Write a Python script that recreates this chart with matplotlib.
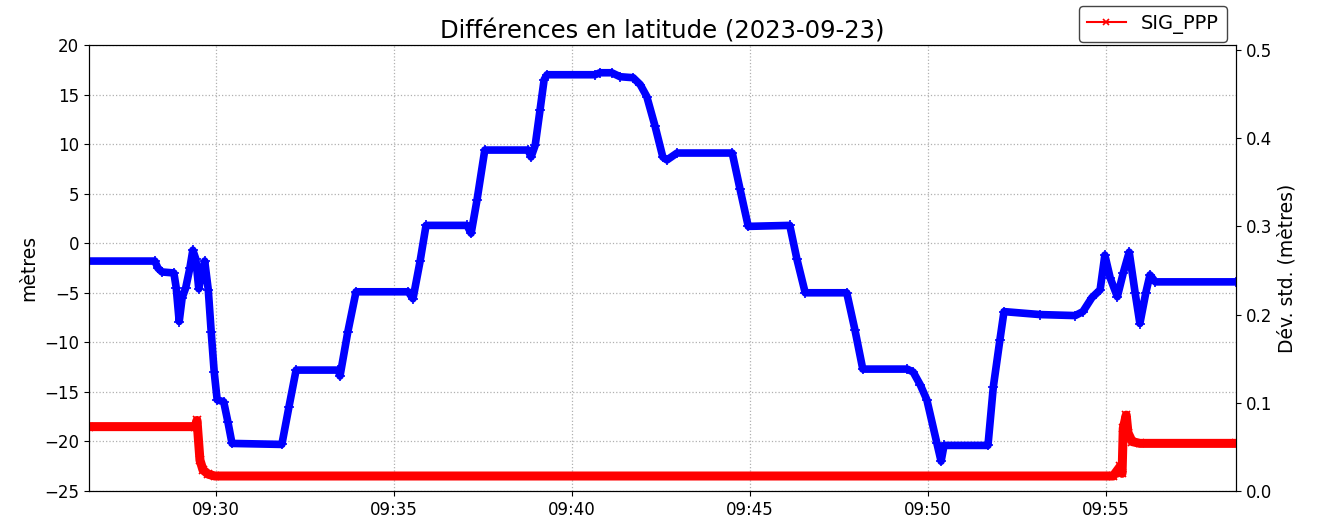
import matplotlib
matplotlib.use("Agg")
import matplotlib.pyplot as plt
import matplotlib.dates as mdates
from matplotlib.lines import Line2D
import pandas as pd

# Blue: latitude difference (metres), key points
lat_times = ["09:26:26", "09:28:17", "09:28:22", "09:28:29", "09:28:49", "09:28:53", "09:28:58",
             "09:29:03", "09:29:09", "09:29:16", "09:29:21", "09:29:26", "09:29:31", "09:29:36",
             "09:29:41", "09:29:47", "09:29:52", "09:29:57", "09:30:02", "09:30:13", "09:30:20",
             "09:30:27", "09:31:51", "09:32:03", "09:32:15", "09:33:26", "09:33:29", "09:33:42",
             "09:33:56", "09:35:24", "09:35:32", "09:35:44", "09:35:54", "09:37:03", "09:37:10",
             "09:37:20", "09:37:33", "09:38:46", "09:38:51", "09:38:58", "09:39:06", "09:39:13",
             "09:39:18", "09:40:39", "09:40:47", "09:41:07", "09:41:21", "09:41:43", "09:41:55",
             "09:42:06", "09:42:20", "09:42:33", "09:42:40", "09:42:57", "09:44:30", "09:44:43",
             "09:44:57", "09:46:07", "09:46:19", "09:46:33", "09:47:43", "09:47:57", "09:48:10",
             "09:49:25", "09:49:35", "09:49:47", "09:49:58", "09:50:15", "09:50:22", "09:50:27",
             "09:51:41", "09:51:50", "09:52:01", "09:52:08", "09:53:09", "09:54:08", "09:54:21",
             "09:54:36", "09:54:50", "09:54:58", "09:55:07", "09:55:19", "09:55:29", "09:55:39",
             "09:55:49", "09:55:57", "09:56:07", "09:56:14", "09:56:23", "09:58:39"]
lat_diff = [-1.8, -1.8, -2.5, -2.9, -3.0, -4.5, -7.9,
            -5.5, -4.5, -2.5, -0.7, -1.6, -4.6, -3.0,
            -1.8, -4.7, -9.0, -13.0, -15.8, -16.0, -18.0,
            -20.2, -20.3, -16.5, -12.8, -12.8, -13.4, -9.0,
            -4.9, -4.9, -5.6, -1.8, 1.8, 1.8, 1.0,
            4.4, 9.4, 9.4, 8.7, 9.9, 13.4, 16.5,
            17.0, 17.0, 17.2, 17.2, 16.8, 16.7, 16.0,
            14.8, 11.8, 8.7, 8.4, 9.1, 9.1, 5.5,
            1.7, 1.8, -1.6, -5.0, -5.0, -8.8, -12.7,
            -12.7, -13.0, -14.3, -15.8, -20.2, -22.0, -20.4,
            -20.4, -14.5, -9.8, -6.9, -7.2, -7.3, -6.9,
            -5.5, -4.7, -1.2, -3.5, -5.4, -3.0, -0.9,
            -5.0, -8.1, -5.0, -3.2, -3.9, -3.9]

# Red: SIG_PPP standard deviation (metres)
sig_times = ["09:26:26", "09:29:25", "09:29:28", "09:29:33", "09:29:38", "09:29:47", "09:29:58",
             "09:55:12", "09:55:24", "09:55:27", "09:55:29", "09:55:34", "09:55:37", "09:55:44",
             "09:55:57", "09:58:39"]
sig_ppp = [0.073, 0.073, 0.080, 0.035, 0.024, 0.019, 0.017,
           0.017, 0.028, 0.020, 0.071, 0.086, 0.066, 0.056,
           0.054, 0.054]

day = "2023-09-23 "
t_lat = pd.to_datetime([day + t for t in lat_times])
t_sig = pd.to_datetime([day + t for t in sig_times])

fig = plt.figure(figsize=(13.18, 5.29), dpi=100)
ax1 = fig.add_axes([89/1318, 1 - 491/529, (1236-89)/1318, (491-45)/529])
ax2 = ax1.twinx()

ax1.plot(t_lat, lat_diff, color="blue", lw=5.5, marker="+", ms=7, mew=1.2, solid_joinstyle="round")
ax2.plot(t_sig, sig_ppp, color="red", lw=6.5, marker="x", ms=6, mew=1.2, solid_joinstyle="round")

ax1.set_xlim(pd.Timestamp(day + "09:26:26"), pd.Timestamp(day + "09:58:39"))
ax1.set_ylim(-25, 20)
ax1.set_yticks(range(-25, 21, 5))
ax2.set_ylim(0, 0.5057)
ax2.set_yticks([0.0, 0.1, 0.2, 0.3, 0.4, 0.5])

ax1.xaxis.set_major_locator(mdates.MinuteLocator(byminute=range(0, 60, 5)))
ax1.xaxis.set_major_formatter(mdates.DateFormatter("%H:%M"))

ax1.grid(True, linestyle=":", color="#b0b0b0", lw=0.9)
ax1.tick_params(labelsize=12)
ax2.tick_params(labelsize=12)
ax1.set_ylabel("mètres", fontsize=13.5)
ax2.set_ylabel("Dév. std. (mètres)", fontsize=13.5)
ax1.set_title("Différences en latitude (2023-09-23)", fontsize=17.5, pad=5)

handle = Line2D([], [], color="red", lw=1.5, marker="x", ms=5, mew=1.2)
ax2.legend([handle], ["SIG_PPP"], loc="lower right", bbox_to_anchor=(0.992, 1.007),
           borderaxespad=0, fontsize=14, framealpha=1, edgecolor="#444444")

fig.savefig("out.png", dpi=100)
